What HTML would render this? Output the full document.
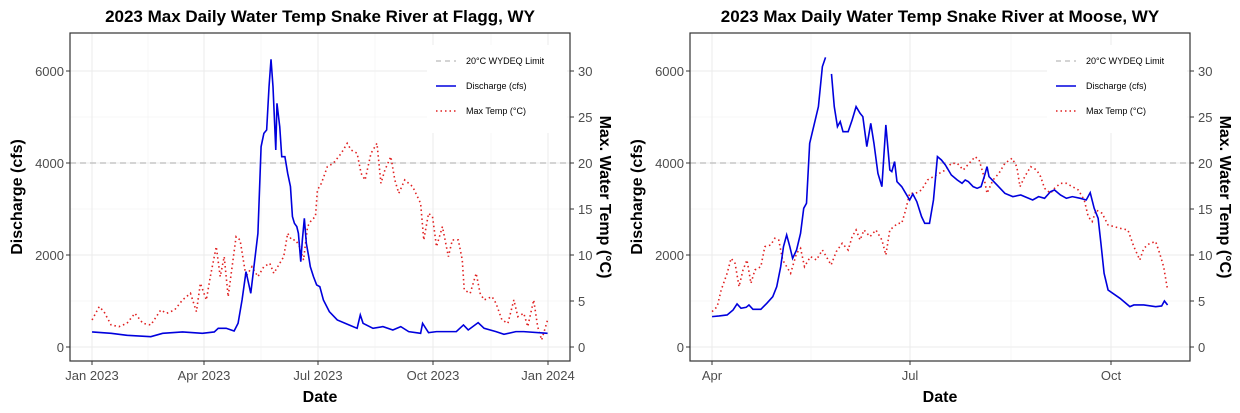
<!DOCTYPE html>
<html><head><meta charset="utf-8"><style>
body{margin:0;background:#fff}
svg{display:block;font-family:"Liberation Sans",sans-serif}
.t{font-weight:bold;font-size:17px;fill:#000}
.tk{font-size:13px;fill:#4d4d4d}
.at{font-weight:bold;font-size:16px;fill:#000}
.lg{font-size:9px;fill:#000}
.g{stroke:#ebebeb;stroke-width:1}
.gm{stroke:#f4f4f4;stroke-width:0.7}
</style></head><body>
<svg width="1240" height="413" viewBox="0 0 1240 413">
<defs>
<g id="frame">
 <rect x="70" y="33" width="500" height="328" fill="#fff"/>
 <g class="gm"><line x1="70" x2="570" y1="301" y2="301"/><line x1="70" x2="570" y1="209" y2="209"/><line x1="70" x2="570" y1="117" y2="117"/></g>
 <g class="g"><line x1="70" x2="570" y1="347" y2="347"/><line x1="70" x2="570" y1="255" y2="255"/><line x1="70" x2="570" y1="163" y2="163"/><line x1="70" x2="570" y1="71" y2="71"/></g>
 <g class="tk" text-anchor="end"><text x="64" y="352">0</text><text x="64" y="260">2000</text><text x="64" y="168">4000</text><text x="64" y="76">6000</text></g>
 <g class="tk"><text x="578" y="352">0</text><text x="578" y="306">5</text><text x="578" y="260">10</text><text x="578" y="214">15</text><text x="578" y="168">20</text><text x="578" y="122">25</text><text x="578" y="76">30</text></g>
 <g stroke="#333" stroke-width="1"><line x1="66" x2="70" y1="347" y2="347"/><line x1="66" x2="70" y1="255" y2="255"/><line x1="66" x2="70" y1="163" y2="163"/><line x1="66" x2="70" y1="71" y2="71"/>
 <line x1="570" x2="574" y1="347" y2="347"/><line x1="570" x2="574" y1="301" y2="301"/><line x1="570" x2="574" y1="255" y2="255"/><line x1="570" x2="574" y1="209" y2="209"/><line x1="570" x2="574" y1="163" y2="163"/><line x1="570" x2="574" y1="117" y2="117"/><line x1="570" x2="574" y1="71" y2="71"/></g>
 <text class="at" transform="translate(22,197) rotate(-90)" text-anchor="middle">Discharge (cfs)</text>
 <text class="at" transform="translate(600,197) rotate(90)" text-anchor="middle">Max. Water Temp (°C)</text>
 <text class="at" x="320" y="402" text-anchor="middle">Date</text>
</g>
<g id="legend">
 <rect x="427" y="45" width="140" height="88" fill="#fff"/>
 <line x1="436" x2="456" y1="61" y2="61" stroke="#bbb" stroke-width="1.2" stroke-dasharray="5,4"/>
 <line x1="436" x2="456" y1="86" y2="86" stroke="#0000dd" stroke-width="1.6"/>
 <line x1="436" x2="456" y1="111" y2="111" stroke="#e02020" stroke-width="1.6" stroke-dasharray="1.5,3"/>
 <text class="lg" x="466" y="64">20°C WYDEQ Limit</text>
 <text class="lg" x="466" y="89">Discharge (cfs)</text>
 <text class="lg" x="466" y="114">Max Temp (°C)</text>
</g>
</defs>

<!-- LEFT -->
<use href="#frame"/>
<g class="gm"><line x1="148" x2="148" y1="33" y2="361"/><line x1="261" x2="261" y1="33" y2="361"/><line x1="375" x2="375" y1="33" y2="361"/><line x1="491" x2="491" y1="33" y2="361"/></g>
<g class="g"><line x1="92" x2="92" y1="33" y2="361"/><line x1="204" x2="204" y1="33" y2="361"/><line x1="318" x2="318" y1="33" y2="361"/><line x1="433" x2="433" y1="33" y2="361"/><line x1="548" x2="548" y1="33" y2="361"/></g>
<g stroke="#333"><line x1="92" x2="92" y1="361" y2="365"/><line x1="204" x2="204" y1="361" y2="365"/><line x1="318" x2="318" y1="361" y2="365"/><line x1="433" x2="433" y1="361" y2="365"/><line x1="548" x2="548" y1="361" y2="365"/></g>
<g class="tk" text-anchor="middle"><text x="92" y="380">Jan 2023</text><text x="204" y="380">Apr 2023</text><text x="318" y="380">Jul 2023</text><text x="433" y="380">Oct 2023</text><text x="548" y="380">Jan 2024</text></g>
<use href="#legend"/>
<line x1="70" x2="570" y1="163" y2="163" stroke="#bbb" stroke-width="1.2" stroke-dasharray="6,4"/>
<g transform="scale(0.3968,0.3333)" fill="none">
<polyline vector-effect="non-scaling-stroke" stroke="#e02020" stroke-width="1.6" stroke-dasharray="1.5,3" points="232,960 250,920 262,935 280,975 300,980 320,970 340,940 360,970 380,975 405,930 420,940 440,930 460,900 480,880 495,935 505,850 520,900 530,830 545,740 555,830 565,770 575,890 585,800 595,710 605,720 620,830 635,800 650,830 665,800 680,790 690,820 700,800 715,770 725,700 735,720 745,720 755,740 765,780 775,680 785,660 795,650 800,570 810,550 825,500 840,490 860,460 875,430 885,450 900,460 910,520 920,540 935,460 950,430 960,550 970,510 985,470 995,540 1005,580 1020,540 1040,560 1060,610 1068,720 1080,640 1090,650 1100,740 1115,680 1130,770 1140,720 1155,720 1165,780 1170,870 1185,880 1200,820 1210,880 1220,900 1240,890 1250,910 1265,960 1280,970 1295,900 1305,950 1320,940 1330,980 1345,900 1355,980 1365,1020 1380,960"/>
<polyline vector-effect="non-scaling-stroke" stroke="#0000dd" stroke-width="1.6" points="232,996 280,1000 320,1006 380,1010 410,1000 460,996 510,1000 540,996 550,985 570,985 590,993 600,970 610,900 620,815 632,880 640,800 650,700 658,440 665,400 672,390 678,260 683,178 688,260 695,450 698,310 705,380 710,470 718,470 725,520 732,560 737,650 742,670 748,680 752,700 758,785 762,720 767,655 772,730 778,770 782,800 790,830 798,855 806,860 815,900 830,935 850,960 880,975 900,985 908,945 915,970 940,985 965,980 990,990 1010,980 1030,995 1060,1000 1065,970 1080,998 1100,995 1130,995 1150,995 1168,975 1180,990 1205,968 1220,985 1250,995 1270,1003 1300,995 1320,995 1380,1000"/>
</g>
<rect x="70" y="33" width="500" height="328" fill="none" stroke="#333" stroke-width="1.2"/>
<text class="t" x="320" y="22" text-anchor="middle">2023 Max Daily Water Temp Snake River at Flagg, WY</text>

<!-- RIGHT -->
<g transform="translate(620,0)">
<use href="#frame"/>
<g class="gm"><line x1="191" x2="191" y1="33" y2="361"/><line x1="391" x2="391" y1="33" y2="361"/></g>
<g class="g"><line x1="92" x2="92" y1="33" y2="361"/><line x1="290" x2="290" y1="33" y2="361"/><line x1="491" x2="491" y1="33" y2="361"/></g>
<g stroke="#333"><line x1="92" x2="92" y1="361" y2="365"/><line x1="290" x2="290" y1="361" y2="365"/><line x1="491" x2="491" y1="361" y2="365"/></g>
<g class="tk" text-anchor="middle"><text x="92" y="380">Apr</text><text x="290" y="380">Jul</text><text x="491" y="380">Oct</text></g>
<use href="#legend"/>
<line x1="70" x2="570" y1="163" y2="163" stroke="#bbb" stroke-width="1.2" stroke-dasharray="6,4"/>
<g transform="scale(0.3968,0.3333)" fill="none">
<polyline vector-effect="non-scaling-stroke" stroke="#e02020" stroke-width="1.6" stroke-dasharray="1.5,3" points="232,935 245,920 255,870 270,820 280,775 290,790 300,860 310,810 320,780 330,850 340,810 355,800 365,740 380,735 390,715 400,720 410,780 430,820 445,760 455,745 465,800 480,770 495,780 510,750 520,770 532,795 545,755 560,730 575,750 585,710 595,690 605,720 615,690 630,710 645,690 660,720 670,765 680,690 690,680 700,670 710,670 720,630 730,580 745,580 760,570 775,540 790,530 805,520 820,510 835,490 850,490 865,510 880,490 895,470 905,480 915,520 925,580 940,540 955,520 970,490 988,475 1000,500 1008,560 1020,530 1035,500 1050,510 1060,530 1070,565 1085,580 1095,565 1110,550 1125,550 1140,560 1155,570 1170,600 1180,650 1190,665 1200,630 1215,640 1230,675 1260,685 1280,690 1295,740 1310,780 1320,745 1335,730 1350,725 1360,760 1370,800 1380,870"/>
<polyline vector-effect="non-scaling-stroke" stroke="#0000dd" stroke-width="1.6" points="232,950 250,948 270,945 285,930 295,912 305,925 318,922 325,915 335,928 355,928 370,910 385,890 395,860 405,800 412,740 420,705 428,740 435,775 445,750 455,700 463,625 470,610 478,430 488,380 500,320 510,200 518,172"/>
<polyline vector-effect="non-scaling-stroke" stroke="#0000dd" stroke-width="1.6" points="533,222 540,320 548,380 555,365 562,395 575,395 585,360 595,320 605,340 612,350 622,440 632,370 640,430 650,520 660,560 670,375 680,510 685,515 692,485 698,545 710,560 720,580 730,600 738,582 748,605 760,650 768,670 780,670 790,600 800,470 810,480 820,495 835,525 850,540 862,550 870,540 878,545 890,560 900,565 910,560 918,530 925,500 930,530 950,555 970,580 990,590 1010,585 1040,600 1055,590 1070,595 1085,575 1095,570 1110,585 1125,595 1140,590 1160,595 1175,600 1185,578 1195,625 1205,655 1212,730 1220,820 1230,870 1260,895 1285,920 1295,915 1320,915 1350,920 1365,918 1372,903 1380,915"/>
</g>
<rect x="70" y="33" width="500" height="328" fill="none" stroke="#333" stroke-width="1.2"/>
<text class="t" x="320" y="22" text-anchor="middle">2023 Max Daily Water Temp Snake River at Moose, WY</text>
</g>
</svg>
</body></html>
